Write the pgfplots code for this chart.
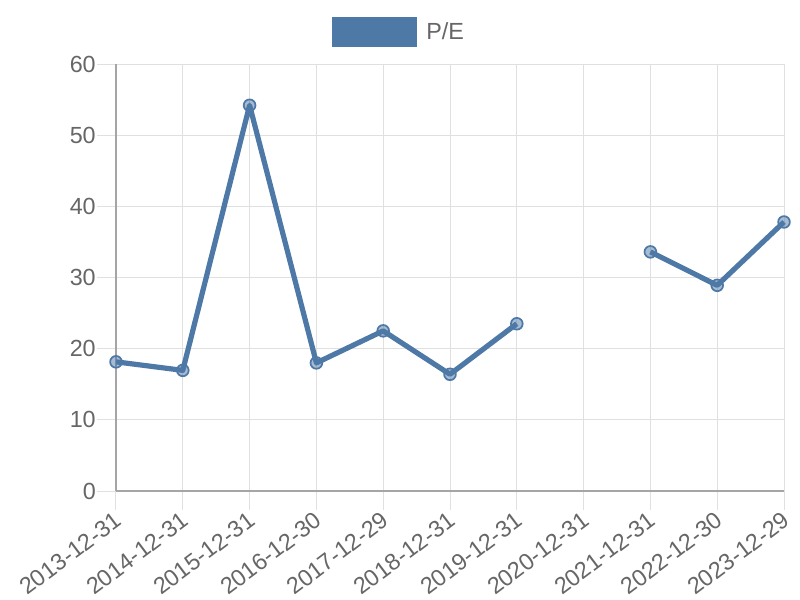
\documentclass[border=0pt]{standalone}
\usepackage{pgfplots}
\pgfplotsset{compat=1.18}
\usepackage{fontspec}
\setmainfont{Liberation Sans}
\definecolor{pecol}{RGB}{78,121,167}
\definecolor{txt}{RGB}{102,102,102}
\definecolor{gridc}{RGB}{224,224,224}
\definecolor{axc}{RGB}{165,165,165}
\begin{document}
\begin{tikzpicture}
\begin{axis}[
  at={(0,0)}, anchor=south west,
  scale only axis,
  width=501pt, height=320.25pt,
  xmin=0, xmax=10, ymin=0, ymax=60,
  xtick={0,...,10},
  xticklabels={2013-12-31,2014-12-31,2015-12-31,2016-12-30,2017-12-29,2018-12-31,2019-12-31,2020-12-31,2021-12-31,2022-12-30,2023-12-29},
  ytick={0,10,...,60},
  /pgf/number format/assume math mode=true,
  tick label style={font=\fontsize{17.5}{20}\selectfont, color=txt},
  xticklabel style={xshift=-2pt, yshift=0pt, rotate=37, anchor=north east, inner sep=0.5pt},
  yticklabel style={inner sep=1pt},
  grid=major,
  major grid style={gridc, line width=0.75pt},
  major tick length=14pt,
  tick align=outside,
  tick style={gridc, line width=0.75pt},
  axis x line*=bottom, axis y line*=left,
  axis line style={axc, line width=0.9pt, -},
  unbounded coords=jump,
  clip=false,
  legend style={at={(0.422,1.075)}, anchor=center, draw=none, fill=none,
    font=\fontsize{17.5}{20}\selectfont, text=txt,
    legend cell align=left, inner sep=0pt, column sep=7pt,
    nodes={inner sep=0pt}},
  legend image code/.code={\path[fill=pecol, draw=none] (0pt,-11.25pt) rectangle (63.75pt,11.25pt);},
]
\addplot[pecol, line width=3.9pt, line join=round,
  mark=*, mark size=4.4pt,
  mark options={line width=1.3pt, draw=pecol, fill=pecol, fill opacity=0.5}]
  coordinates {
  (0,18.15) (1,16.95) (2,54.2) (3,18.0) (4,22.5) (5,16.4) (6,23.5) (7,nan)
  (8,33.6) (9,28.9) (10,37.8)
  };
\addlegendentry{P/E}
\end{axis}
\pgfresetboundingbox
\path[use as bounding box] (-87pt,-81.75pt) rectangle (513pt,368.25pt);
\end{tikzpicture}
\end{document}
